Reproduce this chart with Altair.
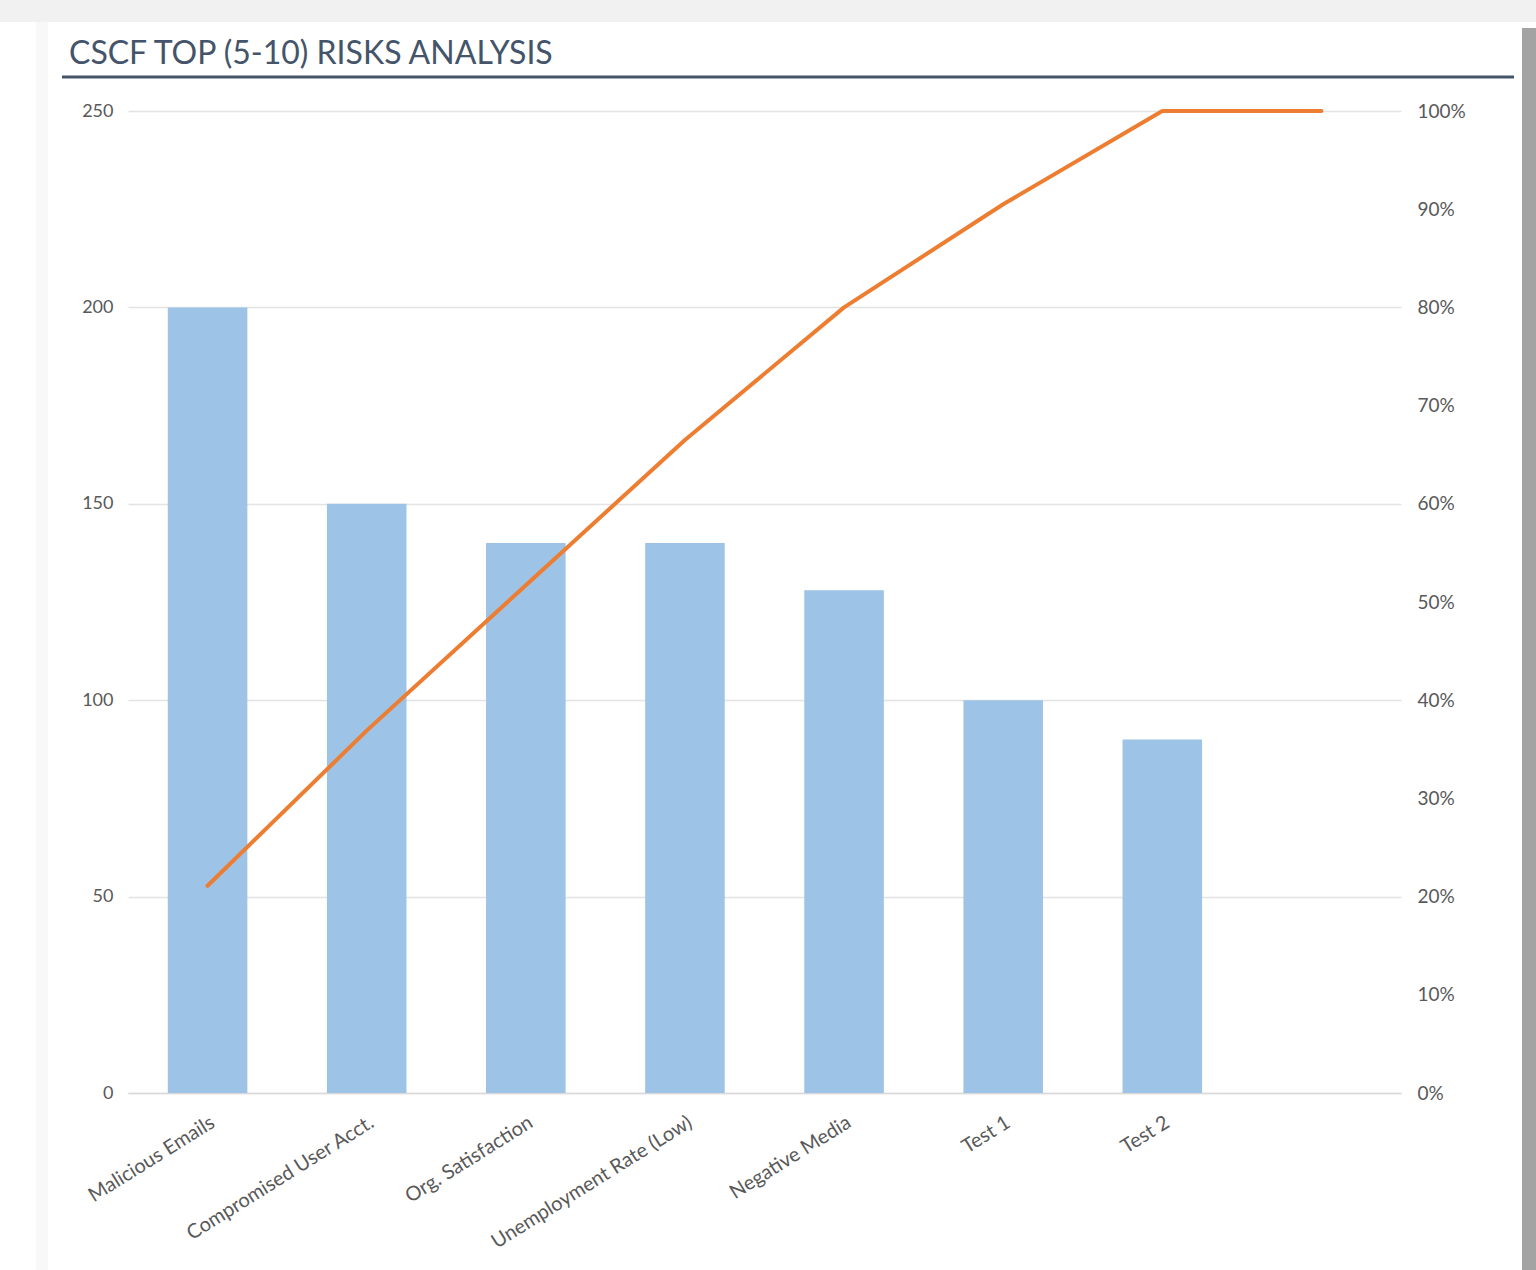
import altair as alt
import pandas as pd

title_text = "CSCF TOP (5-10) RISKS ANALYSIS"
categories = [
    "Malicious Emails",
    "Compromised User Acct.",
    "Org. Satisfaction",
    "Unemployment Rate (Low)",
    "Negative Media",
    "Test 1",
    "Test 2",
    " ",
]
counts = [200, 150, 140, 140, 128, 100, 90]
cum_pct = [0.211, 0.369, 0.517, 0.665, 0.800, 0.905, 1.0, 1.0]
left_ticks = [0, 50, 100, 150, 200, 250]
right_ticks = [0, 0.1, 0.2, 0.3, 0.4, 0.5, 0.6, 0.7, 0.8, 0.9, 1.0]

FONT = "Lato"
LABEL_COLOR = "#595959"
BAR_COLOR = "#9DC3E6"
LINE_COLOR = "#ED7D31"
TITLE_COLOR = "#44546A"
GRID_COLOR = "#E3E3E3"

W, H = 1273, 982
PAD = {"left": 128, "top": 111, "right": 135, "bottom": 177}

bars_df = pd.DataFrame({"category": categories[: len(counts)], "count": counts})
line_df = pd.DataFrame({"category": categories, "cum": cum_pct})
one = pd.DataFrame({"t": [title_text]})

x_axis = alt.Axis(
    title=None,
    labelAngle=-32,
    labelAlign="right",
    labelBaseline="top",
    labelPadding=19,
    ticks=False,
    domain=True,
    domainColor="#D9D9D9",
    domainWidth=1.5,
    grid=False,
    labelFont=FONT,
    labelFontSize=20,
    labelColor=LABEL_COLOR,
    labelLimit=0,
    labelOverlap=False,
)
x_enc = alt.X(
    "category:N",
    sort=categories,
    scale=alt.Scale(domain=categories, paddingInner=0.5, paddingOuter=0.25),
    axis=x_axis,
)

bars = alt.Chart(bars_df).mark_bar(color=BAR_COLOR).encode(
    x=x_enc,
    y=alt.Y(
        "count:Q",
        scale=alt.Scale(domain=[0, 250], nice=False),
        axis=alt.Axis(
            values=left_ticks,
            orient="left",
            title=None,
            ticks=False,
            domain=False,
            grid=True,
            gridColor=GRID_COLOR,
            gridWidth=1.5,
            labelPadding=15,
            labelFont=FONT,
            labelFontSize=18,
            labelColor=LABEL_COLOR,
        ),
    ),
)

line = alt.Chart(line_df).mark_line(
    color=LINE_COLOR, strokeWidth=4, strokeCap="round", strokeJoin="round"
).encode(
    x=x_enc,
    y=alt.Y(
        "cum:Q",
        scale=alt.Scale(domain=[0, 1], nice=False),
        axis=alt.Axis(
            values=right_ticks,
            format=".0%",
            orient="right",
            title=None,
            ticks=False,
            domain=False,
            grid=False,
            labelPadding=16,
            labelFont=FONT,
            labelFontSize=19,
            labelColor=LABEL_COLOR,
        ),
    ),
)

# card decorations (page coordinates shifted by the padding)
top_strip = alt.Chart(one).mark_rect(color="#F1F1F1").encode(
    x=alt.value(-PAD["left"]), x2=alt.value(W + PAD["right"]),
    y=alt.value(-PAD["top"]), y2=alt.value(22 - PAD["top"]),
)
left_strip = alt.Chart(one).mark_rect(color="#F8F8F8").encode(
    x=alt.value(36 - PAD["left"]), x2=alt.value(48 - PAD["left"]),
    y=alt.value(22 - PAD["top"]), y2=alt.value(H + PAD["bottom"]),
)
right_strip = alt.Chart(one).mark_rect(color="#A3A3A3").encode(
    x=alt.value(1522 - PAD["left"]), x2=alt.value(W + PAD["right"]),
    y=alt.value(28 - PAD["top"]), y2=alt.value(H + PAD["bottom"]),
)

title = alt.Chart(one).mark_text(
    font=FONT, fontSize=32, color=TITLE_COLOR, align="left", baseline="middle"
).encode(
    text="t:N",
    x=alt.value(69 - PAD["left"]),
    y=alt.value(54 - PAD["top"]),
)
underline = alt.Chart(one).mark_rule(color=TITLE_COLOR, strokeWidth=3).encode(
    x=alt.value(62 - PAD["left"]),
    x2=alt.value(1514 - PAD["left"]),
    y=alt.value(77 - PAD["top"]),
)

chart = (
    alt.layer(top_strip, left_strip, right_strip, bars, line, title, underline)
    .resolve_scale(y="independent")
    .properties(
        width=W,
        height=H,
        autosize=alt.AutoSizeParams(type="none"),
        padding=PAD,
        background="white",
    )
    .configure_view(stroke=None)
)

chart.save("out.html", embed_options={"renderer": "svg", "actions": False})
